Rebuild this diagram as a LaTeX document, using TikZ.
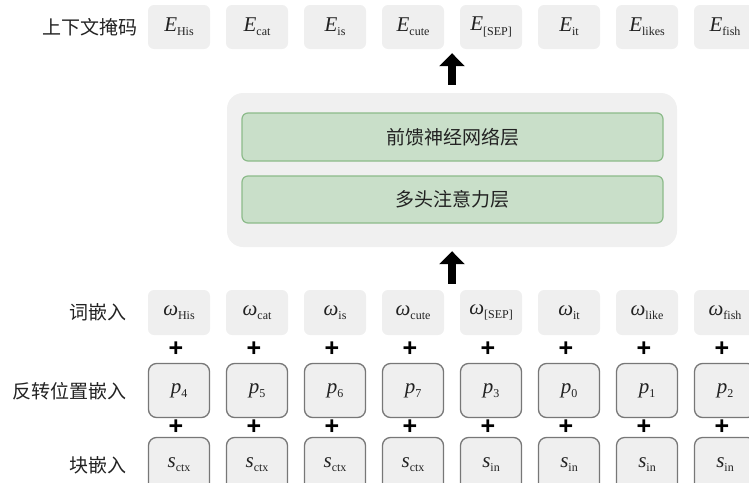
\documentclass[tikz,border=0pt]{standalone}
\usepackage{fontspec}
\setmainfont{Liberation Serif}
\newfontfamily\cjk{Noto Sans CJK SC}
\newfontfamily\plusfont{Liberation Sans}
\usetikzlibrary{arrows.meta,positioning,calc}

\definecolor{tokfill}{HTML}{EFEFEF}
\definecolor{boxline}{HTML}{777777}
\definecolor{encfill}{HTML}{F0F0F0}
\definecolor{layerfill}{HTML}{C9DFC9}
\definecolor{layerline}{HTML}{8CBB8A}
\definecolor{ink}{HTML}{222222}

% token symbol: italic letter with an upright lowered subscript
\newcommand\tok[2]{\textit{#1}\raisebox{-0.45ex}{\fontsize{12}{13}\selectfont #2}}

\tikzset{
  plain/.style={fill=tokfill, rounded corners=6pt, minimum width=62pt,
    inner sep=0pt, text=ink, font=\fontsize{21}{24}\selectfont},
  framed/.style={fill=tokfill, draw=boxline, line width=1.3pt, rounded corners=8pt,
    minimum width=61pt, minimum height=54pt, inner sep=0pt, text=ink,
    font=\fontsize{21}{24}\selectfont},
  rowlabel/.style={anchor=east, text=ink, font=\cjk\fontsize{19}{21}\selectfont},
  layer/.style={fill=layerfill, draw=layerline, line width=1.2pt, rounded corners=6pt,
    minimum width=421pt, inner sep=0pt, text=ink, font=\cjk\fontsize{19}{21}\selectfont},
  plussign/.style={font=\plusfont\bfseries\fontsize{25}{25}\selectfont, inner sep=0pt},
  uparrow/.style={line width=7.5pt, -{Triangle[length=13pt,width=25pt]}},
}

\begin{document}
\begin{tikzpicture}[x=1pt,y=-1pt]
\useasboundingbox (0,0) rectangle (749,482);

% row labels
\node[rowlabel] (lmask) at (141,27) {上下文掩码};
\node[rowlabel] (lword) at (130,312) {词嵌入};
\node[rowlabel] (lpos)  at (130,391) {反转位置嵌入};
\node[rowlabel] (lseg)  at (130,465) {块嵌入};

% encoder block
\node[fill=encfill, rounded corners=16pt, minimum width=450pt, minimum height=154pt,
      inner sep=0pt] (enc) at (452,170) {};
\node[layer, minimum height=48pt] (ffn)  at (452.5,137) {前馈神经网络层};
\node[layer, minimum height=47pt] (attn) at (452.5,199.5) {多头注意力层};

% token columns
\foreach \i/\e/\w/\p/\s in {
  1/His/His/4/ctx, 2/cat/cat/5/ctx, 3/is/is/6/ctx, 4/cute/cute/7/ctx,
  5/[SEP]/[SEP]/3/in, 6/it/it/0/in, 7/likes/like/1/in, 8/fish/fish/2/in}{
  \pgfmathsetmacro\cx{179+78*(\i-1)}
  \node[plain, minimum height=44pt] (e\i) at (\cx,27) {\tok{E}{\e}};
  \node[plain, minimum height=45pt] (w\i) at (\cx,312.5) {\tok{ω}{\w}};
  \node[framed] (p\i) at (\cx,390.5) {\tok{p}{\p}};
  \node[framed] (s\i) at (\cx,464.5) {\tok{s}{\s}};
  \node[plussign] (pa\i) at ($(w\i.south)!0.5!(p\i.north)+(-3,0)$) {+};
  \node[plussign] (pb\i) at ($(p\i.south)!0.5!(s\i.north)+(-3,0)$) {+};
}

% flow arrows
\draw[uparrow, shorten <=8pt, shorten >=4pt] (enc.north) -- (enc.north |- e4.south);
\draw[uparrow, shorten <=6pt, shorten >=4pt] (enc.south |- w4.north) -- (enc.south);
\end{tikzpicture}
\end{document}
